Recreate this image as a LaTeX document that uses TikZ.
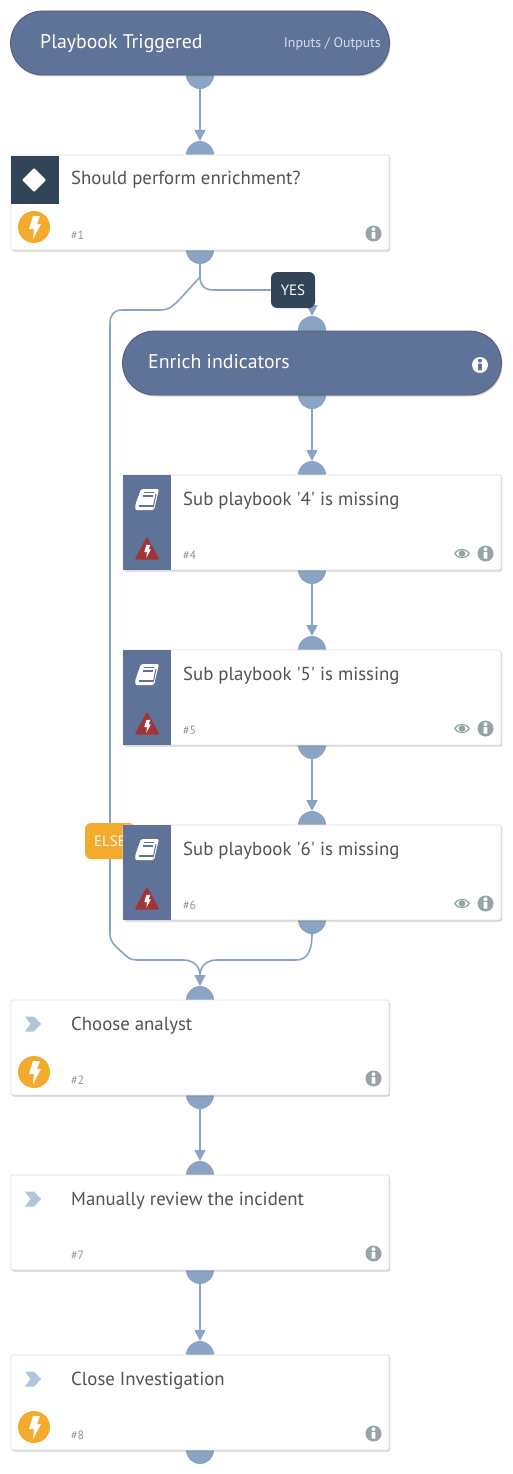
\documentclass[tikz,border=0pt]{standalone}
\usepackage{fontspec}
\setmainfont{PT Sans}[Ligatures=TeXOff]
\usepackage{xcolor}
\usetikzlibrary{arrows.meta,shadows}

\definecolor{slate}{HTML}{5F7399}
\definecolor{navy}{HTML}{324558}
\definecolor{portblue}{HTML}{8AA5C4}
\definecolor{amber}{HTML}{F3AB2E}
\definecolor{iconred}{HTML}{A13535}
\definecolor{icongrey}{HTML}{95A5A6}
\definecolor{chevblue}{HTML}{AFC4DD}

\tikzset{
  softshadow/.style={drop shadow={shadow xshift=1pt,shadow yshift=-1.5pt,opacity=.3,fill=black!60}},
  port/.style={circle,fill=portblue,minimum size=28pt,inner sep=0pt,outer sep=0pt},
  flow/.style={draw=portblue,line width=1.6pt},
  flowarrow/.style={flow,-{Triangle[length=11pt,width=11pt,color=portblue]}},
  card/.style={draw=black!12,line width=.8pt,fill=white,rounded corners=2pt,minimum width=378pt,minimum height=95pt,anchor=north west,inner sep=0pt,outer sep=0pt,softshadow},
  panel/.style={fill=slate,minimum width=48pt,minimum height=95pt,anchor=north west,inner sep=0pt,outer sep=0pt},
  pill/.style={draw=slate!80!black,line width=.8pt,fill=slate,rounded corners=32pt,minimum width=379pt,minimum height=64pt,anchor=north west,inner sep=0pt,outer sep=0pt,softshadow},
  pilltext/.style={text=white,anchor=base west,inner sep=0pt,font=\fontsize{19.8}{21}\selectfont},
  cardtitle/.style={text=black!68,anchor=base west,inner sep=0pt,font=\fontsize{18.8}{20}\selectfont},
  cardnum/.style={text=black!42,anchor=base west,inner sep=0pt,font=\fontsize{12}{14}\selectfont},
  tag/.style={text=white,rounded corners=6pt,minimum height=36pt,inner sep=0pt,font=\fontsize{15}{16}\selectfont},
  boltpic/.pic={\fill[white] (-1,-11) -- (6,-11) -- (3,-3) -- (7,-3) -- (-1,12) -- (0,2) -- (-5,2) -- cycle;},
  infopic/.pic={
    \fill[icongrey] (0,0) circle (8);
    \fill[white] (-1.8,-1.5) rectangle (1.8,5) (0,-4.3) circle (2);
  },
  eyepic/.pic={
    \fill[icongrey] (-8,0) .. controls (-4,-6.5) and (4,-6.5) .. (8,0) .. controls (4,6.5) and (-4,6.5) .. (-8,0) -- cycle;
    \fill[white] (-6.3,0) .. controls (-3,-4.8) and (3,-4.8) .. (6.3,0) .. controls (3,4.8) and (-3,4.8) .. (-6.3,0) -- cycle;
    \fill[icongrey] (0,0) circle (3.4);
  },
  bookpic/.pic={
    \fill[white,rounded corners=1.5pt] (-6,-10) -- (12,-10) -- (7,11) -- (-9,11) .. controls (-12,11) and (-12,7) .. (-11,4) -- cycle;
    \draw[slate,line width=1.2pt] (-3,-6.5) -- (7,-6.5) (-4,-3) -- (6,-3);
    \draw[slate,line width=1.2pt] (-8.5,7) -- (6.5,7);
    \draw[slate,line width=1pt] (6.5,7) -- (9,-5);
  },
}

\begin{document}
\begin{tikzpicture}[x=1pt,y=-1pt]
\useasboundingbox (0,0) rectangle (512,1474);

% ports
\foreach \p/\x/\y in {trigOut/200/75,in1/200/155,out1/200/250,enrichIn/312/330,enrichOut/312/395,in4/312/475,out4/312/570,in5/312/650,out5/312/745,in6/312/825,out6/312/920,in2/200/1000,out2/200/1095,in7/200/1175,out7/200/1270,in8/200/1355,out8/200/1450}
  \node[port] (\p) at (\x,\y) {};

% branch points
\coordinate (split) at (200,277);
\coordinate (merge) at (200,975);
\coordinate (yesEnd) at (312,298);

% yes arrow runs under its tag
\draw[flowarrow] (yesEnd) -- (enrichIn.north);

% tags
\node[tag,fill=navy,minimum width=44pt] (yes) at (293,290) {YES};
\node[tag,fill=amber,minimum width=50pt] (else) at (110,841) {ELSE};

% straight runs
\foreach \a/\b in {trigOut/in1,enrichOut/in4,out4/in5,out5/in6,out2/in7,out7/in8}
  \draw[flowarrow] (\a) -- (\b);

% yes branch
\draw[flow] (out1.south) -- (split) .. controls (200,286) and (205,290) .. (214,290) -- (yes.west);

% else branch
\draw[flow] (split) -- (180,299) .. controls (174,305) and (170,310) .. (160,310) -- (122,310) .. controls (114,310) and (110,315) .. (110,323) -- (else.north);
\draw[flow] (else.south) -- (110,934) .. controls (110,942) and (116,947) .. (123,953) .. controls (127,957) and (130,960) .. (137,960) -- (183,960) .. controls (193,960) and (200,966) .. (merge);
\draw[flow] (out6.south) .. controls (312,953) and (306,960) .. (296,960) -- (217,960) .. controls (207,960) and (200,966) .. (merge);
\draw[flowarrow] (merge) -- (in2);

% pills
\node[pill] (trigger) at (10.5,11) {};
\node[pilltext] (triggerText) at (40,49) {Playbook Triggered};
\node[anchor=base east,inner sep=0pt,text=white!76!slate,font=\fontsize{13.9}{15}\selectfont] (ioText) at (381,48) {Inputs / Outputs};

\node[pill] (enrich) at (122.5,331) {};
\node[pilltext] (enrichText) at (148,368.5) {Enrich indicators};
\fill[white] (480,365) circle (8);
\fill[slate] (478.2,363.5) rectangle (481.8,370) (480,360.7) circle (2);

% cards
\foreach \n/\x/\y/\lab in {1/11/155/Should perform enrichment?,4/123/475/Sub playbook '4' is missing,5/123/650/Sub playbook '5' is missing,6/123/825/Sub playbook '6' is missing,2/11/1000/Choose analyst,7/11/1175/Manually review the incident,8/11/1355/Close Investigation} {
  \node[card] (card\n) at (\x,\y) {};
  \node[cardtitle] (title\n) at (\x+60,\y+30) {\lab};
  \node[cardnum] (num\n) at (\x+60,\y+84) {\#\n};
  \pic at (\x+362.5,\y+78.5) {infopic};
}

% condition icon
\node[fill=navy,minimum size=48pt,anchor=north west,inner sep=0pt] (condIcon) at (11,156) {};
\fill[white,rounded corners=1pt] (34,168) -- (46,180) -- (34,192) -- (22,180) -- cycle;

% lightning badges
\foreach \n/\y in {1/227,2/1072,8/1427} {
  \node[circle,fill=amber,minimum size=32pt,inner sep=0pt] (badge\n) at (34,\y) {};
  \pic at (34,\y) {boltpic};
}

% task chevrons
\foreach \y in {1024,1199,1379}
  \fill[chevblue] (25,\y-7.5) -- (34,\y-7.5) -- (41,\y) -- (34,\y+7.5) -- (25,\y+7.5) -- (30.5,\y) -- cycle;

% sub playbook panels
\foreach \n/\y in {4/475,5/650,6/825} {
  \node[panel] (panel\n) at (123,\y) {};
  \pic at (147,\y+24) {bookpic};
  \fill[iconred,rounded corners=1.5pt] (147,\y+61.5) -- (159.5,\y+84.5) -- (134.5,\y+84.5) -- cycle;
  \pic[scale=.55] at (147,\y+76) {boltpic};
  \pic at (462,\y+78.5) {eyepic};
}

\end{tikzpicture}
\end{document}
